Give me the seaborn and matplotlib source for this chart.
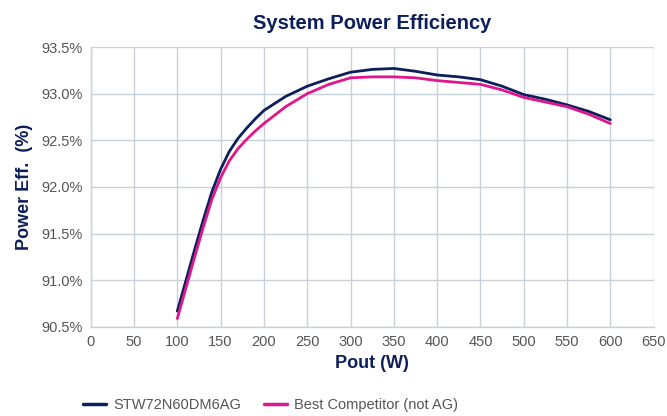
import pandas as pd
import numpy as np
import matplotlib
matplotlib.use("Agg")
import matplotlib.pyplot as plt
import seaborn as sns

# Pout values (W)
pout = [100, 110, 120, 130, 140, 150, 160, 170, 180, 190, 200, 225, 250, 275, 300,
        325, 350, 375, 400, 425, 450, 475, 500, 525, 550, 575, 600]

# Efficiency (%) - ST device
eff_st = [90.67, 91.00, 91.33, 91.65, 91.95, 92.19, 92.38, 92.52, 92.63, 92.73, 92.82,
          92.97, 93.08, 93.16, 93.23, 93.26, 93.27, 93.24, 93.20, 93.18, 93.15, 93.08,
          92.99, 92.94, 92.88, 92.81, 92.72]

# Efficiency (%) - competitor
eff_comp = [90.59, 90.92, 91.25, 91.57, 91.87, 92.10, 92.28, 92.41, 92.51, 92.60, 92.68,
            92.86, 93.00, 93.10, 93.17, 93.18, 93.18, 93.17, 93.14, 93.12, 93.10, 93.04,
            92.96, 92.91, 92.86, 92.78, 92.68]

series_names = ["STW72N60DM6AG", "Best Competitor (not AG)"]
x_ticks = list(range(0, 651, 50))
y_ticks = [90.5, 91.0, 91.5, 92.0, 92.5, 93.0, 93.5]

df = pd.concat([
    pd.DataFrame({"Pout": pout, "Eff": eff_st, "Device": series_names[0]}),
    pd.DataFrame({"Pout": pout, "Eff": eff_comp, "Device": series_names[1]}),
])

sns.set_theme(style="white")
plt.rcParams['font.family'] = ['Liberation Sans', 'DejaVu Sans']

navy = "#0c1f5b"
magenta = "#e0168c"
grid_col = "#c7d1d8"
tick_col = "#555555"

fig = plt.figure(figsize=(6.67, 4.16), dpi=100)
ax = fig.add_axes([0.136, 0.214, 0.844, 0.673])

sns.lineplot(data=df, x="Pout", y="Eff", hue="Device",
             palette=[navy, magenta], linewidth=2.0, ax=ax, legend=False)

ax.set_xlim(0, 650)
ax.set_ylim(90.5, 93.5)
ax.set_xticks(x_ticks)
ax.set_yticks(y_ticks)
ax.set_yticklabels([f"{v:.1f}%" for v in y_ticks])
ax.tick_params(axis="both", colors=tick_col, labelsize=10.5, length=0, pad=6)
ax.grid(True, color=grid_col, linewidth=1.0)
ax.set_axisbelow(True)
for side, sp in ax.spines.items():
    sp.set_visible(side in ("left", "bottom"))
    sp.set_color(grid_col)
    sp.set_linewidth(1.0)

ax.set_xlabel("Pout (W)", color=navy, fontsize=13, fontweight="bold", labelpad=4)
ax.set_ylabel("Power Eff.  (%)", color=navy, fontsize=13, fontweight="bold", labelpad=6)
ax.set_title("System Power Efficiency", color=navy, fontsize=14.5, fontweight="bold", pad=13)

# legend at bottom left
handles = [plt.Line2D([], [], color=c, linewidth=2.5) for c in (navy, magenta)]
fig.legend(handles, series_names, loc="lower left", bbox_to_anchor=(0.105, -0.022),
           ncol=2, frameon=False, fontsize=10.5, handlelength=1.6, handletextpad=0.5,
           columnspacing=1.5, labelcolor=tick_col)

fig.savefig("out.png", dpi=100)
